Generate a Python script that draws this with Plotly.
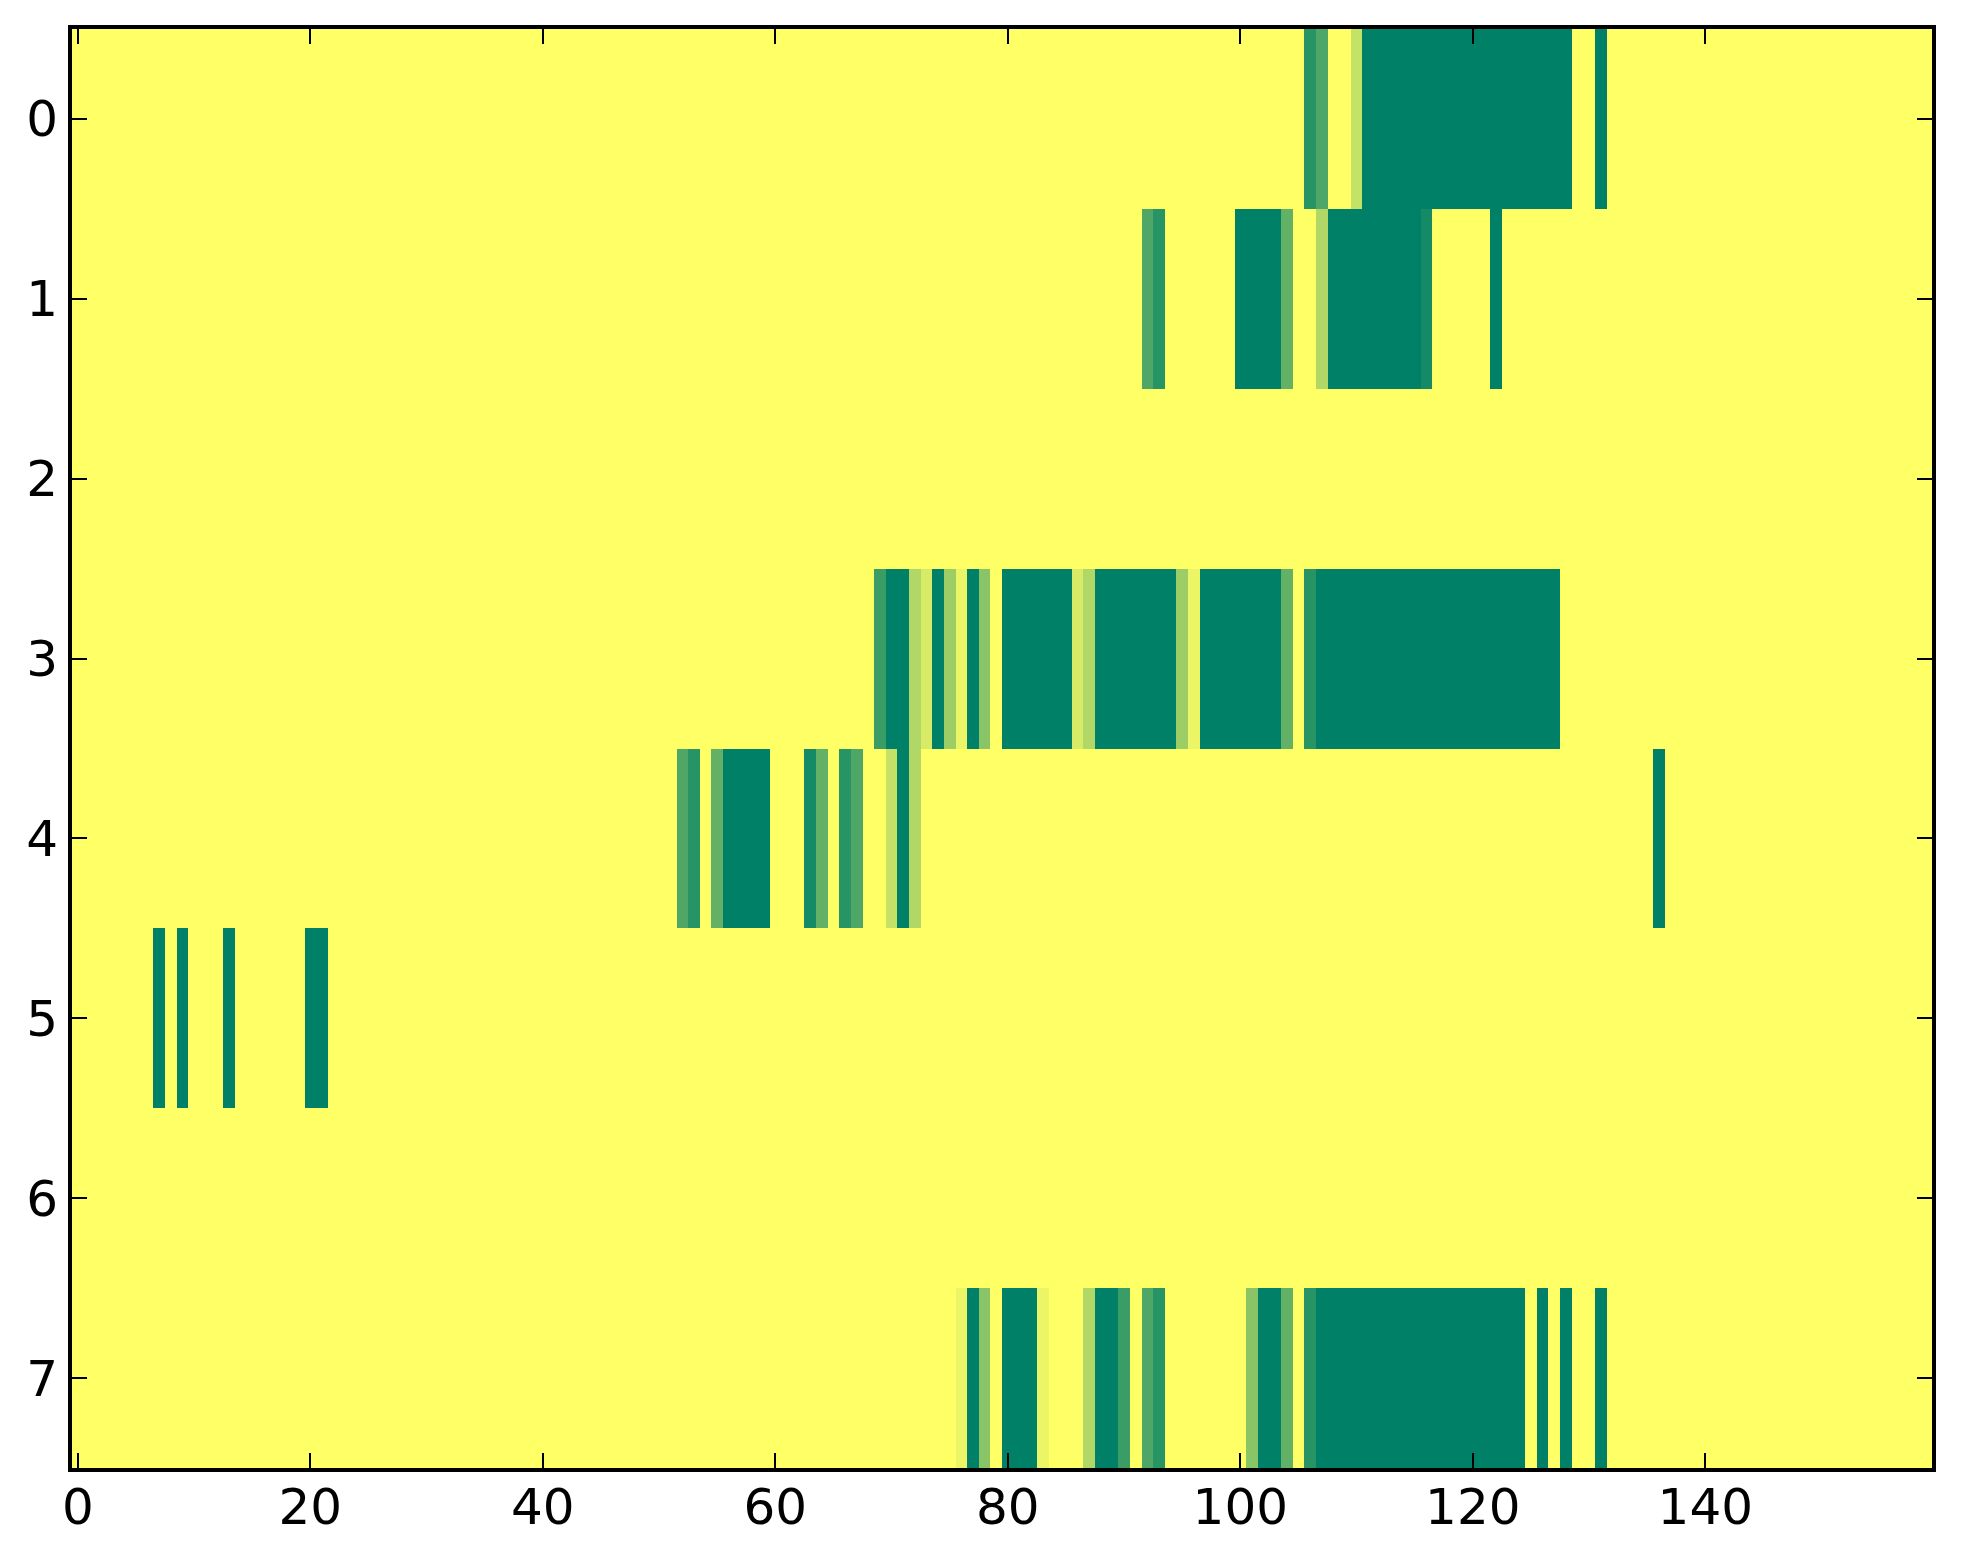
import plotly.graph_objects as go

# counts per cell, only non-zero columns listed (column index: value)
n_cols = 160
row_labels = [0, 1, 2, 3, 4, 5, 6, 7]
x_ticks = [0, 20, 40, 60, 80, 100, 120, 140]

row0 = {106: 11, 107: 9, 110: 3, 111: 13, 112: 13, 113: 13, 114: 13, 115: 13,
        116: 13, 117: 13, 118: 13, 119: 13, 120: 13, 121: 13, 122: 13, 123: 13,
        124: 13, 125: 13, 126: 13, 127: 13, 128: 13, 131: 13}
row1 = {92: 9, 93: 11, 100: 13, 101: 13, 102: 13, 103: 13, 104: 8, 107: 4,
        108: 13, 109: 13, 110: 13, 111: 13, 112: 13, 113: 13, 114: 13, 115: 13,
        116: 12, 122: 13}
row2 = {}
row3 = {69: 10, 70: 13, 71: 13, 72: 4, 73: 2, 74: 13, 75: 5, 76: 1, 77: 13,
        78: 6, 80: 13, 81: 13, 82: 13, 83: 13, 84: 13, 85: 13, 86: 2, 87: 4,
        88: 13, 89: 13, 90: 13, 91: 13, 92: 13, 93: 13, 94: 13, 95: 5, 96: 1,
        97: 13, 98: 13, 99: 13, 100: 13, 101: 13, 102: 13, 103: 13, 104: 8,
        106: 11, 107: 13, 108: 13, 109: 13, 110: 13, 111: 13, 112: 13, 113: 13,
        114: 13, 115: 13, 116: 13, 117: 13, 118: 13, 119: 13, 120: 13, 121: 13,
        122: 13, 123: 13, 124: 13, 125: 13, 126: 13, 127: 13}
row4 = {52: 9, 53: 11, 55: 8, 56: 13, 57: 13, 58: 13, 59: 13, 63: 12, 64: 8,
        66: 11, 67: 9, 70: 3, 71: 13, 72: 4, 136: 13}
row5 = {7: 13, 9: 13, 13: 13, 20: 13, 21: 13}
row6 = {}
row7 = {76: 1, 77: 13, 78: 6, 80: 13, 81: 13, 82: 13, 83: 1, 87: 4, 88: 13,
        89: 13, 90: 10, 92: 9, 93: 11, 101: 6, 102: 13, 103: 13, 104: 8,
        106: 11, 107: 13, 108: 13, 109: 13, 110: 13, 111: 13, 112: 13, 113: 13,
        114: 13, 115: 13, 116: 13, 117: 13, 118: 13, 119: 13, 120: 13, 121: 13,
        122: 13, 123: 13, 124: 13, 126: 13, 128: 13, 131: 13}

rows = [row0, row1, row2, row3, row4, row5, row6, row7]
z = [[r.get(c, 0) for c in range(n_cols)] for r in rows]

fig = go.Figure()

fig.add_trace(go.Heatmap(
    z=z,
    x=list(range(n_cols)),
    y=row_labels,
    colorscale=[[0, "rgb(255,255,102)"], [1, "rgb(0,128,102)"]],
    zmin=0,
    zmax=13,
    showscale=False,
    hoverinfo="skip",
))

axis_style = dict(
    showgrid=False,
    zeroline=False,
    showline=True,
    linecolor="black",
    linewidth=4,
    mirror="allticks",
    ticks="inside",
    ticklen=15,
    tickwidth=1.5,
    tickcolor="black",
    tickfont=dict(family="DejaVu Sans", size=50, color="black"),
)

fig.update_layout(
    width=1947,
    height=1548,
    margin=dict(l=64, r=23, t=21, b=88),
    paper_bgcolor="white",
    plot_bgcolor="white",
    xaxis=dict(range=[-0.5, 159.5], tickvals=x_ticks, ticklabelstandoff=-8, **axis_style),
    yaxis=dict(range=[7.5, -0.5], tickvals=row_labels, **axis_style),
)

fig.write_html("out.html")
